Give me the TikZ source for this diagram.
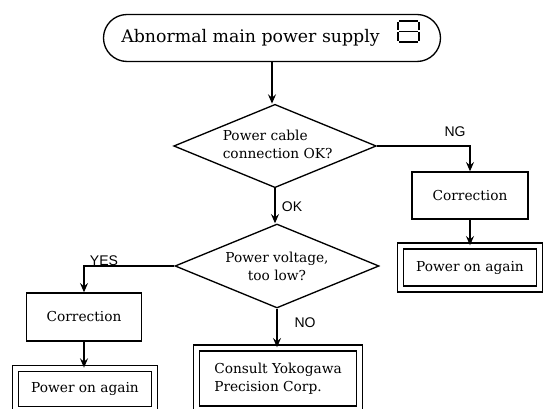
\documentclass[tikz,border=0pt]{standalone}
\usepackage{fontspec}
\setmainfont{DejaVu Serif}
\setsansfont{Liberation Sans}
\usetikzlibrary{shapes.geometric,shapes.misc,arrows.meta}

\begin{document}
\begin{tikzpicture}[x=0.75pt,y=-0.75pt,line width=1pt,
  arr/.style={-{Stealth[length=7pt,width=6pt,inset=2.5pt]}},
  txt/.style={font=\fontsize{10.3}{13.5}\selectfont},
  box/.style={draw,rectangle,inner sep=0pt,txt},
  dbox/.style={box,double,double distance=3.5pt},
  dec/.style={draw,diamond,aspect=2.43,inner sep=0pt,txt,align=left},
  term/.style={draw,rounded rectangle,inner sep=0pt,
    font=\fontsize{13}{16}\selectfont},
  lab/.style={font=\sffamily\fontsize{10.5}{12}\selectfont},
  seg/.style={line width=1.2pt}]

\useasboundingbox (0,0) rectangle (544,409);
\clip (0,0) rectangle (544,409);

% start terminator; the text sits left of the display glyph
\node[term,minimum width=252.75pt,minimum height=35.25pt] (start) at (272,38)
  {\makebox[226pt][l]{Abnormal main power supply}};
% seven-segment display glyph
\draw[seg] (399,21) -- (418,21)
           (398,22) -- (398,30.5)
           (419,22) -- (419,30.5)
           (399,31.5) -- (418,31.5)
           (398,32.5) -- (398,41)
           (419,32.5) -- (419,41)
           (399,42) -- (418,42);

% decisions
\node[dec,minimum width=151.5pt,minimum height=62.25pt] (cable) at (275,146)
  {\hspace{4pt}\begin{tabular}{@{}l@{}}Power cable\\connection OK?\end{tabular}};
\node[dec,align=center,minimum width=153pt,minimum height=63pt] (volt) at (277,266)
  {Power voltage,\\too low?};

% right branch
\node[box,minimum width=87pt,minimum height=35.25pt] (corrR) at (470,195.5) {Correction};
\node[dbox,minimum width=104.25pt,minimum height=32.25pt] (againR) at (470,267.5) {Power on again};

% left branch
\node[box,minimum width=86pt,minimum height=36pt] (corrL) at (84,317) {Correction};
\node[dbox,minimum width=104.25pt,minimum height=31pt] (againL) at (85,389)
  {Power on again};

% bottom centre
\node[dbox,minimum width=122.25pt,minimum height=45.75pt] (consult) at (278,378.5)
  {\raisebox{-1pt}{\begin{tabular}{@{}l@{}}Consult Yokogawa\\Precision Corp.\end{tabular}}};

% connectors
\draw[arr] (start.south) -- (start.south |- cable.north);
\draw[arr] (cable.east) -| (corrR.north);
\draw[arr] (corrR.south) -- (againR.north);
\draw[arr] (cable.south) -- (cable.south |- volt.north);
\draw[arr] (volt.west) -| (corrL.north);
\draw[arr] (corrL.south) -- (corrL.south |- againL.north);
\draw[arr] (volt.south) -- (volt.south |- consult.north);

% branch labels
\node[lab] (ng) at (455,132) {NG};
\node[lab] (ok) at (292,207) {OK};
\node[lab] (yes) at (104,261) {YES};
\node[lab] (no) at (305,323) {NO};
\end{tikzpicture}
\end{document}
